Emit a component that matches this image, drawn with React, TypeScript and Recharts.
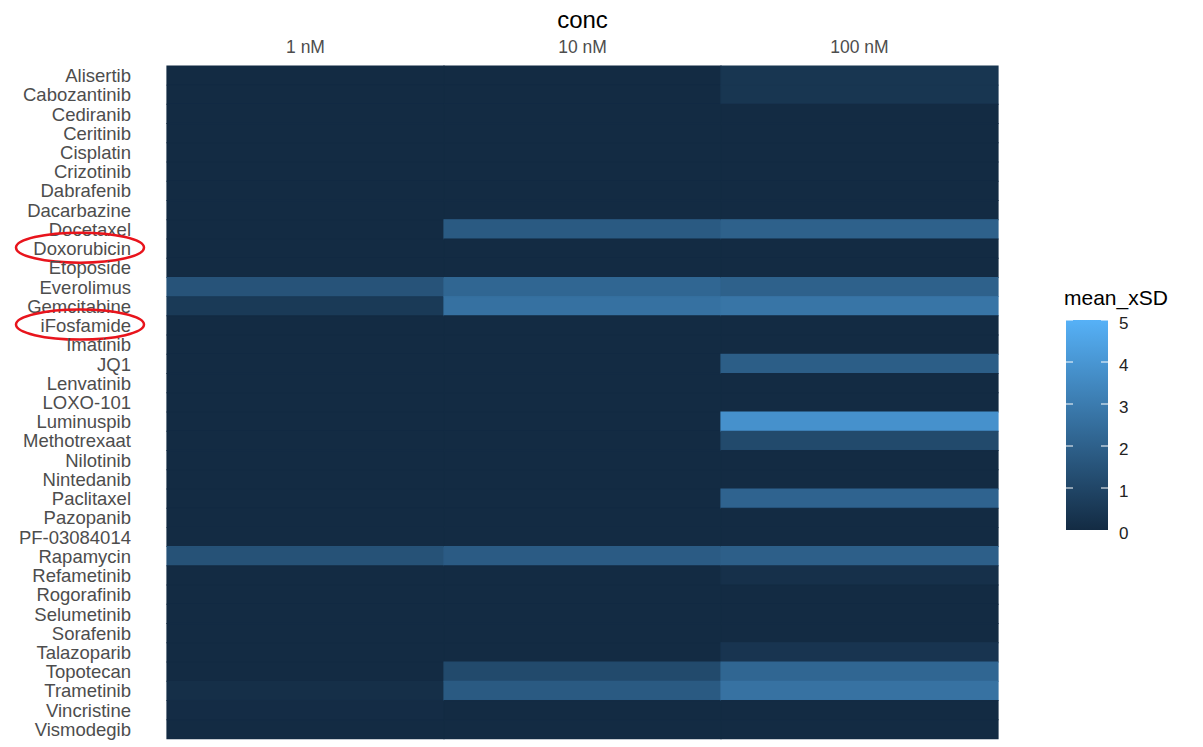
import React from 'react';
import { BarChart, Bar, XAxis, YAxis, Cell } from 'recharts';

const drugs = [
  'Alisertib', 'Cabozantinib', 'Cediranib', 'Ceritinib', 'Cisplatin', 'Crizotinib', 'Dabrafenib',
  'Dacarbazine', 'Docetaxel', 'Doxorubicin', 'Etoposide', 'Everolimus', 'Gemcitabine', 'iFosfamide',
  'Imatinib', 'JQ1', 'Lenvatinib', 'LOXO-101', 'Luminuspib', 'Methotrexaat', 'Nilotinib', 'Nintedanib',
  'Paclitaxel', 'Pazopanib', 'PF-03084014', 'Rapamycin', 'Refametinib', 'Rogorafinib', 'Selumetinib',
  'Sorafenib', 'Talazoparib', 'Topotecan', 'Trametinib', 'Vincristine', 'Vismodegib',
];

const concs = ['1 nM', '10 nM', '100 nM'];

// mean_xSD per drug, one array per concentration
const val1nM = [
  0, 0, 0, 0, 0, 0, 0,
  0, 0, 0, 0, 1.5, 0.55, 0,
  0, 0, 0, 0, 0, 0, 0, 0,
  0, 0, 0, 1.45, 0, 0, 0,
  0, 0, 0, 0.15, 0.05, 0,
];
const val10nM = [
  0, 0, 0, 0, 0, 0, 0,
  0, 1.75, 0, 0, 2.2, 2.6, 0,
  0, 0, 0, 0, 0, 0, 0, 0,
  0, 0, 0, 1.8, 0, 0, 0,
  0, 0, 1.15, 1.75, 0, 0,
];
const val100nM = [
  0.4, 0.4, 0, 0, 0, 0, 0,
  0, 2.0, 0, 0, 2.0, 2.75, 0,
  0, 1.9, 0, 0, 3.8, 1.15, 0, 0,
  2.1, 0, 0, 1.95, 0.2, 0, 0,
  0, 0.35, 2.2, 2.65, 0, 0,
];

const legendTicks = [0, 1, 2, 3, 4, 5];

// drugs circled in red in the original figure
const circled = ['Doxorubicin', 'iFosfamide'];

const LOW = [19, 43, 67];
const HIGH = [86, 177, 247];
const colorOf = (v: number) => {
  const t = Math.max(0, Math.min(1, v / 5));
  const c = LOW.map((l, i) => Math.round(l + (HIGH[i] - l) * t));
  return `rgb(${c[0]},${c[1]},${c[2]})`;
};

const data = drugs.map((d, i) => ({
  drug: d,
  w1: 1,
  w2: 1,
  w3: 1,
  v1: val1nM[i],
  v2: val10nM[i],
  v3: val100nM[i],
}));

const FONT = '"Liberation Sans", Arial, sans-serif';

const YTick = (props: any) => {
  const { y, payload } = props;
  const mark = circled.includes(payload.value);
  return (
    <g>
      <text x={131} y={y} textAnchor="end" dominantBaseline="central" fontSize={18.5}
        fontFamily={FONT} fill="#4D4D4D">
        {payload.value}
      </text>
      {mark && (
        <ellipse cx={80} cy={y - 1} rx={64} ry={15} fill="none" stroke="#E8141C" strokeWidth={2.5} />
      )}
    </g>
  );
};

const XTick = (props: any) => {
  const { x, payload } = props;
  return (
    <text x={x} y={47} textAnchor="middle" dominantBaseline="central" fontSize={17.5}
      fontFamily={FONT} fill="#4D4D4D">
      {concs[Math.floor(payload.value)]}
    </text>
  );
};

const series = [
  { key: 'w1', vals: 'v1' },
  { key: 'w2', vals: 'v2' },
  { key: 'w3', vals: 'v3' },
];

// colour bar geometry
const barTop = 320;
const barBottom = 530;
const barLeft = 1066;
const barWidth = 42;
const yOfLegend = (v: number) => barBottom - (v / 5) * (barBottom - barTop);

export default function App() {
  return (
    <div style={{ position: 'absolute', left: 0, top: 0, width: 1203, height: 747, background: '#fff' }}>
      {/* dark backing under the tiles so anti-aliased seams don't show white */}
      <div style={{ position: 'absolute', left: 167, top: 66, width: 831, height: 673, background: colorOf(0) }} />
      <BarChart
        width={1203}
        height={747}
        data={data}
        layout="vertical"
        margin={{ top: 0, right: 205, bottom: 8, left: 0 }}
        barCategoryGap={0}
        barGap={0}
      >
        <XAxis
          type="number"
          orientation="top"
          domain={[0, 3]}
          ticks={[0.5, 1.5, 2.5]}
          height={66}
          axisLine={false}
          tickLine={false}
          tick={<XTick />}
          label={{
            content: (p: any) => (
              <text x={p.viewBox.x + p.viewBox.width / 2} y={19} textAnchor="middle"
                dominantBaseline="central" fontSize={24} fontFamily={FONT} fill="#000">
                conc
              </text>
            ),
          }}
        />
        <YAxis
          type="category"
          dataKey="drug"
          width={167}
          axisLine={false}
          tickLine={false}
          interval={0}
          tick={<YTick />}
        />
        {series.map((s) => (
          <Bar key={s.key} dataKey={s.key} stackId="heat" isAnimationActive={false}>
            {data.map((row: any, i) => (
              <Cell key={i} fill={colorOf(row[s.vals])} stroke={colorOf(row[s.vals])} strokeWidth={1.2} />
            ))}
          </Bar>
        ))}
      </BarChart>
      <svg style={{ position: 'absolute', left: 0, top: 0 }} width={1203} height={747} pointerEvents="none">
        <defs>
          <linearGradient id="scale" x1="0" y1="1" x2="0" y2="0">
            <stop offset="0%" stopColor={colorOf(0)} />
            <stop offset="100%" stopColor={colorOf(5)} />
          </linearGradient>
        </defs>
        <text x={1064} y={297} dominantBaseline="central" fontSize={21} fontFamily={FONT} fill="#000">
          mean_xSD
        </text>
        <rect x={barLeft} y={barTop} width={barWidth} height={barBottom - barTop} fill="url(#scale)" />
        {legendTicks.map((t) => (
          <g key={t}>
            {t > 0 && (
              <>
                <line x1={barLeft} x2={barLeft + 7} y1={yOfLegend(t)} y2={yOfLegend(t)} stroke="#fff" strokeWidth={1} />
                <line x1={barLeft + barWidth - 7} x2={barLeft + barWidth} y1={yOfLegend(t)} y2={yOfLegend(t)} stroke="#fff" strokeWidth={1} />
              </>
            )}
            <text x={1119} y={yOfLegend(t) + 3} dominantBaseline="central" fontSize={17}
              fontFamily={FONT} fill="#222">
              {t}
            </text>
          </g>
        ))}
      </svg>
    </div>
  );
}
